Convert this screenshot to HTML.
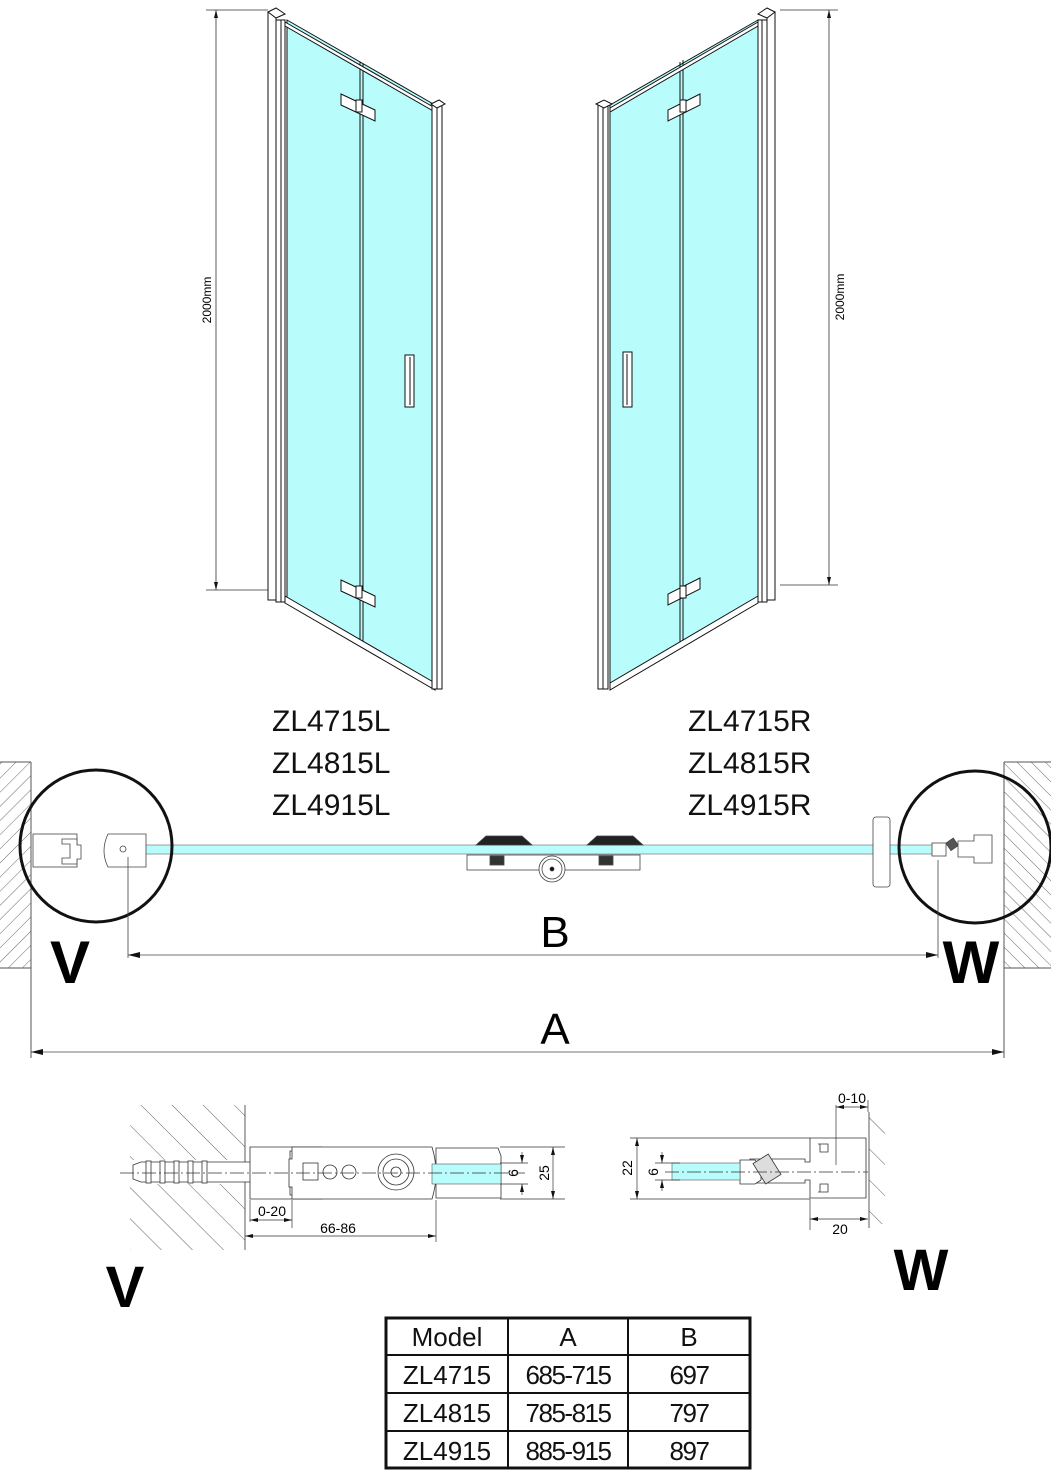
<!DOCTYPE html>
<html><head><meta charset="utf-8"><style>
html,body{margin:0;padding:0;background:#fff}
svg{display:block}
text{font-family:"Liberation Sans",sans-serif}
</style></head><body>
<svg width="1051" height="1471" viewBox="0 0 1051 1471" xmlns="http://www.w3.org/2000/svg">
<defs>
<pattern id="h1" width="10" height="10" patternUnits="userSpaceOnUse" patternTransform="rotate(45)"><line x1="0" y1="0" x2="0" y2="10" stroke="#444" stroke-width="0.8"/></pattern>
<pattern id="h2" width="10" height="10" patternUnits="userSpaceOnUse" patternTransform="rotate(-45)"><line x1="0" y1="0" x2="0" y2="10" stroke="#444" stroke-width="0.8"/></pattern>
<pattern id="h3" width="22" height="22" patternUnits="userSpaceOnUse" patternTransform="rotate(-45)"><line x1="0" y1="0" x2="0" y2="22" stroke="#333" stroke-width="0.8"/></pattern>
<marker id="ar" markerWidth="12" markerHeight="6" refX="12" refY="3" orient="auto-start-reverse" markerUnits="userSpaceOnUse"><path d="M0,0 L12,3 L0,6z" fill="#111"/></marker>
<marker id="as" markerWidth="8" markerHeight="4" refX="8" refY="2" orient="auto-start-reverse" markerUnits="userSpaceOnUse"><path d="M0,0 L8,2 L0,4z" fill="#111"/></marker>
</defs>

<!-- LEFT DOOR -->
<g stroke="#111" stroke-width="1" fill="none">
<polygon points="287,20 435,105 435,688 287,600" fill="#b9fcfc"/>
<line x1="360" y1="62" x2="360" y2="643"/><line x1="363" y1="64" x2="363" y2="645"/>
<rect x="268" y="12" width="8" height="588" fill="#fff"/>
<rect x="276" y="20" width="9" height="582" fill="#fff"/>
<line x1="281" y1="20" x2="281" y2="602"/>
<polygon points="268,12 276,8 285,14 276,18" fill="#fff"/>
<polygon points="285,22 435,108 435,112 285,26" fill="#fff"/>
<polygon points="285,596 435,683 435,690 285,603" fill="#fff"/>
<rect x="432" y="104" width="10" height="585" fill="#fff"/>
<line x1="437" y1="106" x2="437" y2="689"/>
<polygon points="431,104 439,100 445,104 437,108" fill="#fff"/>
<polygon points="341,94 375,110 375,121 341,105" fill="#fff"/>
<rect x="356" y="100" width="6" height="12" fill="#fff"/>
<polygon points="341,580 375,596 375,607 341,591" fill="#fff"/>
<rect x="356" y="586" width="6" height="12" fill="#fff"/>
<rect x="405" y="355" width="9" height="52" fill="#fff"/>
<line x1="410" y1="357" x2="410" y2="405"/>
</g>
<g stroke="#333" stroke-width="0.8">
<line x1="206" y1="10" x2="268" y2="10"/><line x1="206" y1="590" x2="268" y2="590"/>
<line x1="216" y1="10" x2="216" y2="590" marker-start="url(#as)" marker-end="url(#as)"/>
</g>
<text x="0" y="0" font-size="12" transform="translate(211,300) rotate(-90)" text-anchor="middle">2000mm</text>

<!-- RIGHT DOOR -->
<g stroke="#111" stroke-width="1" fill="none">
<polygon points="758,20 610,105 610,688 758,600" fill="#b9fcfc"/>
<line x1="680" y1="62" x2="680" y2="643"/><line x1="683" y1="60" x2="683" y2="641"/>
<rect x="767" y="12" width="8" height="588" fill="#fff"/>
<rect x="758" y="20" width="9" height="582" fill="#fff"/>
<line x1="762" y1="20" x2="762" y2="602"/>
<polygon points="775,12 767,8 758,14 767,18" fill="#fff"/>
<polygon points="758,22 610,108 610,112 758,26" fill="#fff"/>
<polygon points="758,596 610,683 610,690 758,603" fill="#fff"/>
<rect x="598" y="104" width="10" height="585" fill="#fff"/>
<line x1="603" y1="106" x2="603" y2="689"/>
<polygon points="596,104 604,100 612,104 604,108" fill="#fff"/>
<polygon points="700,94 668,110 668,121 700,105" fill="#fff"/>
<rect x="680" y="100" width="6" height="12" fill="#fff"/>
<polygon points="700,578 668,594 668,605 700,589" fill="#fff"/>
<rect x="680" y="586" width="6" height="12" fill="#fff"/>
<rect x="623" y="352" width="9" height="55" fill="#fff"/>
<line x1="627" y1="354" x2="627" y2="405"/>
</g>
<g stroke="#333" stroke-width="0.8">
<line x1="780" y1="10" x2="838" y2="10"/><line x1="780" y1="585" x2="838" y2="585"/>
<line x1="829" y1="10" x2="829" y2="585" marker-start="url(#as)" marker-end="url(#as)"/>
</g>
<text x="0" y="0" font-size="12" transform="translate(844,297) rotate(-90)" text-anchor="middle">2000mm</text>

<!-- labels -->
<g font-size="30" fill="#111">
<text x="272" y="731">ZL4715L</text><text x="272" y="773">ZL4815L</text><text x="272" y="815">ZL4915L</text>
<text x="688" y="731">ZL4715R</text><text x="688" y="773">ZL4815R</text><text x="688" y="815">ZL4915R</text>
</g>

<!-- PLAN -->
<rect x="0" y="762" width="31" height="206" fill="url(#h1)"/>
<line x1="31" y1="762" x2="31" y2="1058" stroke="#555" stroke-width="1"/>
<rect x="1004" y="762" width="47" height="206" fill="url(#h2)"/>
<line x1="1004" y1="762" x2="1004" y2="1058" stroke="#555" stroke-width="1"/>
<line x1="1004" y1="762" x2="1051" y2="762" stroke="#555"/><line x1="1004" y1="968" x2="1051" y2="968" stroke="#555"/>
<line x1="0" y1="762" x2="31" y2="762" stroke="#555"/><line x1="0" y1="968" x2="31" y2="968" stroke="#555"/>
<rect x="128" y="845" width="808" height="9" fill="#b9fcfc" stroke="#888" stroke-width="0.8"/>
<g stroke="#444" stroke-width="0.8" fill="#fff">
<rect x="33" y="834" width="44" height="33"/>
<path d="M62,839 h15 v6 h4 v14 h-4 v5 h-15 v-6 h8 v-14 h-8z"/>
<path d="M108,834 h38 v33 h-38 q-8,-16 0,-33z"/>
<circle cx="123" cy="849" r="3"/>
<rect x="873" y="817" width="17" height="70" rx="3"/>
<rect x="932" y="843" width="14" height="13"/>
<rect x="948" y="840" width="9" height="9" transform="rotate(-35 952 845)" fill="#555"/>
<path d="M958,841 h16 v-6 h18 v28 h-18 v-6 h-16z"/>
<rect x="467" y="855" width="173" height="15"/>
<circle cx="552" cy="869" r="13"/><circle cx="552" cy="869" r="10"/><circle cx="552" cy="869" r="2" fill="#111"/>
<path d="M476,845 l10,-9 h36 l10,9z" fill="#222"/>
<path d="M587,845 l10,-9 h36 l10,9z" fill="#222"/>
<rect x="490" y="856" width="14" height="9" fill="#333"/>
<rect x="599" y="856" width="14" height="9" fill="#333"/>
</g>
<circle cx="96" cy="846" r="76" fill="none" stroke="#111" stroke-width="3"/>
<circle cx="975" cy="847" r="76" fill="none" stroke="#111" stroke-width="3"/>
<g stroke="#444" stroke-width="0.8">
<line x1="128" y1="857" x2="128" y2="958"/>
<line x1="938" y1="860" x2="938" y2="958"/>
<line x1="128" y1="955" x2="938" y2="955" marker-start="url(#ar)" marker-end="url(#ar)"/>
<line x1="31" y1="1052" x2="1004" y2="1052" marker-start="url(#ar)" marker-end="url(#ar)"/>
</g>
<text x="555" y="947" font-size="44" text-anchor="middle">B</text>
<text x="555" y="1044" font-size="44" text-anchor="middle">A</text>
<text x="70" y="983" font-size="60" font-weight="bold" text-anchor="middle">V</text>
<text x="971" y="983" font-size="60" font-weight="bold" text-anchor="middle">W</text>

<!-- DETAIL V -->
<rect x="130" y="1105" width="115" height="145" fill="url(#h3)"/>
<rect x="125" y="1160" width="125" height="24" fill="#fff"/>
<g stroke="#333" stroke-width="0.8" fill="#fff">
<line x1="245" y1="1105" x2="245" y2="1250"/>
<path d="M133,1165 l8,-3 h110 v20 h-110 l-8,-3z"/>
<rect x="146" y="1161" width="5" height="22"/><rect x="160" y="1161" width="5" height="22"/><rect x="174" y="1161" width="5" height="22"/><rect x="188" y="1161" width="5" height="22"/><rect x="202" y="1161" width="5" height="22"/>
<path d="M250,1147 h72 v4 h-32 v44 h32 v4 h-72z"/>
<path d="M292,1147 h140 q8,26 0,52 h-140 v-12 h-3 v-28 h3z"/>
<rect x="303" y="1163" width="15" height="17"/>
<circle cx="330" cy="1172" r="7"/><circle cx="349" cy="1172" r="7"/>
<circle cx="396" cy="1172" r="18"/><circle cx="396" cy="1172" r="13"/><circle cx="396" cy="1172" r="5"/>
<path d="M436,1148 h62 l3,8 v42 h-65z"/>
</g>
<rect x="432" y="1164" width="69" height="20" fill="#b9fcfc" stroke="#555" stroke-width="0.6"/>
<g stroke="#333" stroke-width="0.7">
<line x1="120" y1="1173" x2="525" y2="1173" stroke-dasharray="14,3,2,3"/>
<line x1="500" y1="1147" x2="565" y2="1147"/><line x1="500" y1="1199" x2="565" y2="1199"/>
<line x1="500" y1="1163" x2="528" y2="1163"/><line x1="500" y1="1184" x2="528" y2="1184"/>
<line x1="553" y1="1147" x2="553" y2="1199" marker-start="url(#as)" marker-end="url(#as)"/>
<line x1="522" y1="1152" x2="522" y2="1163" marker-end="url(#as)"/><line x1="522" y1="1195" x2="522" y2="1184" marker-end="url(#as)"/>
<line x1="250" y1="1200" x2="250" y2="1222"/><line x1="292" y1="1200" x2="292" y2="1228"/>
<line x1="250" y1="1220" x2="292" y2="1220" marker-start="url(#as)" marker-end="url(#as)"/>
<line x1="436" y1="1200" x2="436" y2="1242"/>
<line x1="245" y1="1236" x2="436" y2="1236" marker-start="url(#as)" marker-end="url(#as)"/>
</g>
<text x="272" y="1216" font-size="14" text-anchor="middle">0-20</text>
<text x="338" y="1233" font-size="14" text-anchor="middle">66-86</text>
<text x="0" y="0" font-size="14" transform="translate(518,1173) rotate(-90)" text-anchor="middle">6</text>
<text x="0" y="0" font-size="14" transform="translate(549,1173) rotate(-90)" text-anchor="middle">25</text>
<text x="125" y="1307" font-size="58" font-weight="bold" text-anchor="middle">V</text>

<!-- DETAIL W -->
<rect x="869" y="1112" width="16" height="112" fill="url(#h3)"/>
<g stroke="#333" stroke-width="0.8" fill="#fff">
<line x1="869" y1="1112" x2="869" y2="1228"/>
<path d="M810,1138 h56 v60 h-56 v-18 h-5 v3 h-55 v-24 h55 v3 h5z"/>
<path d="M818,1144 h10 v8 h-8 v-8 M818,1192 h10 v-8 h-8 v8" fill="none"/>
<path d="M740,1160 h15 l6,8 v12 l-6,4 h-15z"/>
<rect x="758" y="1157" width="18" height="24" transform="rotate(-32 767 1169)" fill="#ddd"/>
</g>
<rect x="672" y="1163" width="68" height="17" fill="#b9fcfc" stroke="#555" stroke-width="0.6"/>
<g stroke="#333" stroke-width="0.7">
<line x1="665" y1="1172" x2="868" y2="1172" stroke-dasharray="14,3,2,3"/>
<line x1="630" y1="1138" x2="810" y2="1138"/><line x1="630" y1="1199" x2="810" y2="1199"/>
<line x1="655" y1="1163" x2="680" y2="1163"/><line x1="655" y1="1180" x2="680" y2="1180"/>
<line x1="637" y1="1138" x2="637" y2="1199" marker-start="url(#as)" marker-end="url(#as)"/>
<line x1="662" y1="1152" x2="662" y2="1163" marker-end="url(#as)"/><line x1="662" y1="1191" x2="662" y2="1180" marker-end="url(#as)"/>
<line x1="836" y1="1105" x2="836" y2="1165"/><line x1="868" y1="1100" x2="868" y2="1112"/>
<line x1="836" y1="1107" x2="868" y2="1107" marker-start="url(#as)" marker-end="url(#as)"/>
<line x1="810" y1="1199" x2="810" y2="1230"/>
<line x1="810" y1="1219" x2="868" y2="1219" marker-start="url(#as)" marker-end="url(#as)"/>
</g>
<text x="852" y="1103" font-size="14" text-anchor="middle">0-10</text>
<text x="840" y="1234" font-size="14" text-anchor="middle">20</text>
<text x="0" y="0" font-size="14" transform="translate(658,1172) rotate(-90)" text-anchor="middle">6</text>
<text x="0" y="0" font-size="14" transform="translate(632,1168) rotate(-90)" text-anchor="middle">22</text>
<text x="921" y="1290" font-size="58" font-weight="bold" text-anchor="middle">W</text>

<!-- TABLE -->
<g stroke="#111" fill="none">
<rect x="386" y="1318" width="364" height="150" stroke-width="3"/>
<line x1="508" y1="1318" x2="508" y2="1468" stroke-width="2"/>
<line x1="628" y1="1318" x2="628" y2="1468" stroke-width="2"/>
<line x1="386" y1="1355" x2="750" y2="1355" stroke-width="2"/>
<line x1="386" y1="1393" x2="750" y2="1393" stroke-width="2"/>
<line x1="386" y1="1431" x2="750" y2="1431" stroke-width="2"/>
</g>
<g font-size="26" text-anchor="middle" fill="#111">
<text x="447" y="1346">Model</text><text x="568" y="1346">A</text><text x="689" y="1346">B</text>
<text x="447" y="1384">ZL4715</text><text x="568" y="1384" letter-spacing="-1.5">685-715</text><text x="689" y="1384" letter-spacing="-1.5">697</text>
<text x="447" y="1422">ZL4815</text><text x="568" y="1422" letter-spacing="-1.5">785-815</text><text x="689" y="1422" letter-spacing="-1.5">797</text>
<text x="447" y="1460">ZL4915</text><text x="568" y="1460" letter-spacing="-1.5">885-915</text><text x="689" y="1460" letter-spacing="-1.5">897</text>
</g>
</svg>
</body></html>
